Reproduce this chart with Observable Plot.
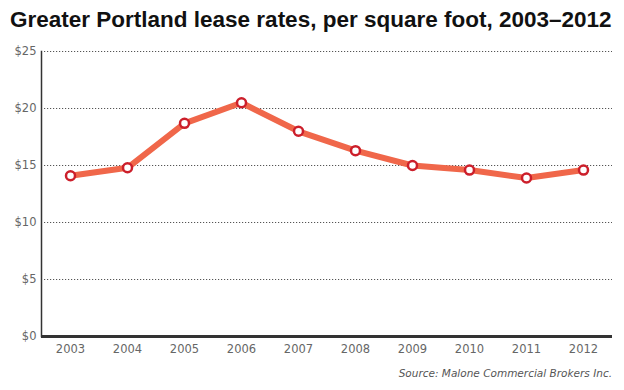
<!DOCTYPE html>
<html>
<head>
<meta charset="utf-8">
<script src="https://cdn.jsdelivr.net/npm/d3@7"></script>
<script src="https://cdn.jsdelivr.net/npm/@observablehq/plot@0.6"></script>
<style>
  body { margin: 0; background: #fff; }
  #wrap { width: 624px; height: 390px; position: relative; overflow: hidden; }
  #title { position: absolute; left: 10px; top: 7px; font-family: "Liberation Sans", Arial, sans-serif; font-weight: bold; font-size: 22.5px; color: #111; white-space: nowrap; }
  #chart { position: absolute; left: 0; top: 40px; }
  #source { position: absolute; right: 12px; top: 367px; font-family: "DejaVu Sans", Verdana, sans-serif; font-style: italic; font-size: 10.5px; color: #555; }
</style>
</head>
<body>
<div id="wrap">
  <div id="title">Greater Portland lease rates, per square foot, 2003–2012</div>
  <div id="chart"></div>
  <div id="source">Source: Malone Commercial Brokers Inc.</div>
</div>
<script>
const years = ["2003","2004","2005","2006","2007","2008","2009","2010","2011","2012"];
const rates = [14.1, 14.8, 18.7, 20.5, 18.0, 16.3, 15.0, 14.6, 13.9, 14.6];
const yTicks = [0, 5, 10, 15, 20, 25];
const gridTicks = [5, 10, 15, 20, 25];

const data = years.map((y, i) => ({year: y, rate: rates[i]}));

const plot = Plot.plot({
  width: 624,
  height: 320,
  marginTop: 11,
  marginBottom: 24,
  marginLeft: 41,
  marginRight: 12,
  style: {fontFamily: "'DejaVu Sans', Verdana, sans-serif", fontSize: "11.5px", color: "#666", background: "#fff"},
  x: {type: "point", domain: years, padding: 0.5, label: null},
  y: {domain: [0, 25], label: null},
  marks: [
    Plot.ruleY(gridTicks, {stroke: "#555", strokeDasharray: "1.2,1.8", strokeWidth: 1, strokeOpacity: 1, insetLeft: 3}),
    Plot.axisY({ticks: yTicks, tickSize: 0, tickPadding: 5, tickFormat: d => "$" + d, fill: "#666"}),
    Plot.axisX({tickSize: 0, tickPadding: 8, fill: "#666"}),
    Plot.frame({anchor: "left", stroke: "#333", strokeWidth: 1.5}),
    Plot.ruleY([0], {stroke: "#333", strokeWidth: 3}),
    Plot.line(data, {x: "year", y: "rate", stroke: "#f0674a", strokeWidth: 6, strokeLinejoin: "round"}),
    Plot.dot(data, {x: "year", y: "rate", r: 4.5, fill: "#fff", stroke: "#cc1f2b", strokeWidth: 2.5})
  ]
});
document.getElementById("chart").appendChild(plot);
</script>
</body>
</html>
